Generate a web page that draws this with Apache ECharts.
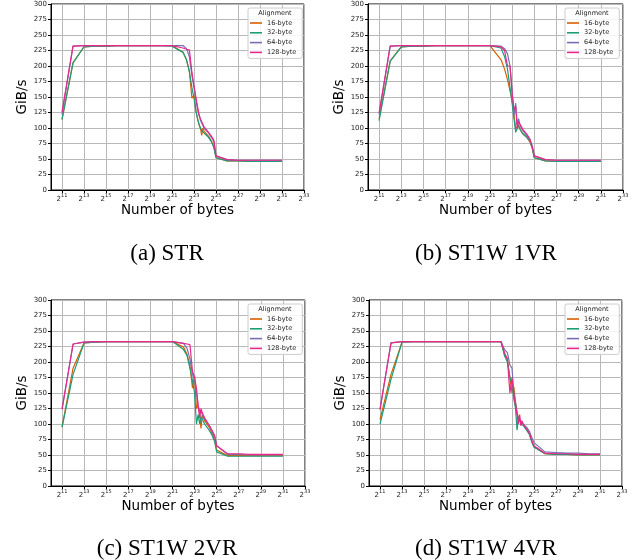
<!DOCTYPE html>
<html><head><meta charset="utf-8">
<script src="https://cdn.jsdelivr.net/npm/echarts@6/dist/echarts.min.js"></script>
<style>html,body{margin:0;padding:0;background:#fff}#c{width:635px;height:560px}</style>
</head><body><div id="c"></div>
<script>
// x positions as log2(bytes)
const sizeExp = [11,12,13,14,15,16,17,18,19,20,21,22,22.32,22.58,22.81,23,23.17,23.32,23.46,23.58,23.7,23.81,23.91,24,24.32,24.58,24.81,25,26,27,28,29,30,31];
const xTickExp = [11,13,15,17,19,21,23,25,27,29,31,33];
const seriesNames = ['16-byte','32-byte','64-byte','128-byte'];
const seriesColors = ['#d95f02','#1b9e77','#7570b3','#e7298a'];
const panelCaptions = ['(a) STR','(b) ST1W 1VR','(c) ST1W 2VR','(d) ST1W 4VR'];
const legendTitle = 'Alignment';
const xAxisTitle = 'Number of bytes';
const yAxisTitle = 'GiB/s';

// (a) STR
const strA16 = [114,205,231,232,232,233,233,233,233,233,233,222,210,192,148,153,128,115,105,100,88,100,95,92,87,79,70,52,47,47,46,46,46,46];
const strA32 = [114,205,231,232,232,233,233,233,233,233,232,222,210,190,165,148,128,115,106,100,96,94,92,90,85,78,68,52,47,47,46,46,46,46];
const strA64 = [122,232,233,233,233,233,233,233,233,233,233,233,228,215,185,165,145,130,120,113,108,104,100,97,92,85,78,55,49,48,48,48,48,48];
const strA128 = [126,232,233,233,233,233,233,233,233,233,233,229,227,226,190,168,150,135,122,115,110,106,102,99,93,87,80,55,49,48,48,48,48,48];
// (b) ST1W 1VR
const vr1A16 = [115,208,231,232,232,233,233,233,233,233,233,210,195,178,160,145,120,100,97,103,100,95,92,90,85,78,68,52,47,46,46,46,46,46];
const vr1A32 = [112,208,231,232,232,233,233,233,233,233,233,229,215,195,165,140,115,93,100,105,98,95,92,90,85,80,68,52,47,46,46,46,46,46];
const vr1A64 = [122,232,233,233,233,233,233,233,233,233,233,232,228,220,200,160,120,140,105,115,105,100,98,95,88,82,72,55,49,48,48,48,48,48];
const vr1A128 = [124,232,233,233,233,233,233,233,233,233,233,231,225,200,200,155,130,135,98,110,108,103,100,97,90,83,70,55,49,48,48,48,48,48];
// (c) ST1W 2VR
const vr2A16 = [95,190,231,232,233,233,233,233,233,233,233,224,212,195,158,178,125,130,120,93,115,110,105,103,95,85,75,58,49,49,49,49,49,49];
const vr2A32 = [95,180,231,232,233,233,233,233,233,233,233,220,210,190,170,150,100,115,100,112,108,105,100,98,90,82,72,55,48,48,48,48,48,48];
const vr2A64 = [124,229,232,233,233,233,233,233,233,233,233,230,222,205,180,170,150,130,118,122,115,112,108,105,98,88,80,65,51,51,50,50,50,50];
const vr2A128 = [124,229,232,233,233,233,233,233,233,233,233,230,229,228,185,175,158,130,110,125,118,120,110,107,98,90,82,65,52,52,51,51,51,51];
// (d) ST1W 4VR
const vr4A16 = [107,180,232,233,233,233,233,233,233,233,233,233,212,205,175,150,160,135,120,110,105,108,103,100,92,85,72,63,52,51,51,50,50,50];
const vr4A32 = [100,172,232,233,233,233,233,233,233,233,233,233,210,200,175,165,140,125,90,110,105,100,100,98,90,83,70,63,52,51,51,50,50,50];
const vr4A64 = [123,231,233,233,233,233,233,233,233,233,233,233,220,215,195,190,150,135,115,110,112,105,102,100,95,88,78,70,55,54,53,53,52,52];
const vr4A128 = [124,231,233,233,233,233,233,233,233,233,233,233,215,205,150,175,145,130,115,100,115,97,105,100,92,85,72,65,53,52,52,51,51,51];

const panelData = [
  [strA16, strA32, strA64, strA128],
  [vr1A16, vr1A32, vr1A64, vr1A128],
  [vr2A16, vr2A32, vr2A64, vr2A128],
  [vr4A16, vr4A32, vr4A64, vr4A128]
];

const grids = [
  {left:51, top:4, width:253, height:186},
  {left:368, top:4, width:255, height:186},
  {left:51, top:300, width:254, height:186},
  {left:369, top:300, width:253, height:186}
];
const legendBoxes = [
  {left:248, top:8},
  {left:565, top:8},
  {left:248, top:304},
  {left:565, top:304}
];
const captionPos = [[167,254],[486,254],[167,549],[486,549]];

const chart = echarts.init(document.getElementById('c'), null, {renderer:'canvas'});
const option = {
  animation:false,
  backgroundColor:'#fff',
  color: seriesColors,
  grid: grids.map(g => Object.assign({show:true, borderColor:'#000', borderWidth:1, backgroundColor:'transparent'}, g)),
  xAxis: grids.map((g,i) => ({
    gridIndex:i, type:'value', min:10, max:33,
    name:xAxisTitle, nameLocation:'middle', nameGap:13,
    nameTextStyle:{fontFamily:'DejaVu Sans', fontSize:13.5, color:'#000'},
    axisLine:{show:true, onZero:false, lineStyle:{color:'#000', width:1}},
    axisTick:{show:true, length:3, customValues:xTickExp, lineStyle:{color:'#000'}},
    axisLabel:{customValues:xTickExp, margin:3, formatter: v => '{b|2}{s|' + v + '}',
      rich:{ b:{fontFamily:'DejaVu Sans', fontSize:7, color:'#222', lineHeight:10, verticalAlign:'bottom'},
             s:{fontFamily:'DejaVu Sans', fontSize:5, color:'#222', lineHeight:10, verticalAlign:'top'} } },
    splitLine:{show:true, lineStyle:{color:'#b8b8b8', width:1}}
  })),
  yAxis: grids.map((g,i) => ({
    gridIndex:i, type:'value', min:0, max:300, interval:25,
    name:yAxisTitle, nameLocation:'middle', nameGap:20,
    nameTextStyle:{fontFamily:'DejaVu Sans', fontSize:13.5, color:'#000'},
    axisLine:{show:true, lineStyle:{color:'#000', width:1}},
    axisTick:{show:true, length:3, lineStyle:{color:'#000'}},
    axisLabel:{fontFamily:'DejaVu Sans', fontSize:7, color:'#222', margin:4},
    splitLine:{show:true, lineStyle:{color:'#b8b8b8', width:1}}
  })),
  legend: legendBoxes.map((b,i) => ({
    orient:'vertical', left:b.left, top:b.top,
    padding:[11,6,2,2], itemGap:1.8, itemWidth:12, itemHeight:1.6, icon:'rect',
    borderColor:'#cccccc', borderWidth:1, borderRadius:2, backgroundColor:'rgba(255,255,255,0.85)',
    textStyle:{fontFamily:'DejaVu Sans', fontSize:6.5, color:'#222', lineHeight:8},
    data: seriesNames.slice()
  })),
  graphic: [],
  series: []
};
panelData.forEach((arrs, p) => {
  arrs.forEach((vals, s) => {
    option.series.push({
      type:'line', name:seriesNames[s], xAxisIndex:p, yAxisIndex:p,
      showSymbol:false, symbol:'none', z: 2 + s,
      lineStyle:{width:1.2, color:seriesColors[s]}, itemStyle:{color:seriesColors[s]},
      data: sizeExp.map((e,k) => [e, vals[k]])
    });
  });
});
legendBoxes.forEach((b,i) => {
  option.graphic.push({type:'text', x:b.left + 27, y:b.top + 2, z:100,
    style:{text:legendTitle, fontFamily:'DejaVu Sans', fontSize:6.5, fill:'#222', textAlign:'center', textVerticalAlign:'top'}});
});
captionPos.forEach((c,i) => {
  option.graphic.push({type:'text', x:c[0], y:c[1], z:100,
    style:{text:panelCaptions[i], fontFamily:'Liberation Serif', fontSize:23, fill:'#000', textAlign:'center', textVerticalAlign:'middle'}});
});
chart.setOption(option);
</script></body></html>
